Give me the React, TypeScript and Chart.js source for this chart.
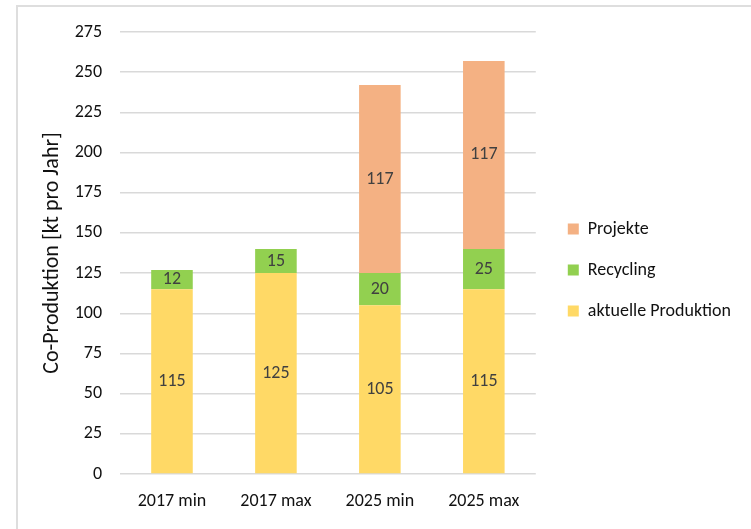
import React, { useEffect, useRef } from "react";
import { Chart, registerables } from "chart.js";

Chart.register(...registerables);

const categories = ["2017 min", "2017 max", "2025 min", "2025 max"];
const aktuelleProduktion = [115, 125, 105, 115];
const recycling = [12, 15, 20, 25];
const projekte = [null, null, 117, 117];
const yMin = 0;
const yMax = 275;
const yStep = 25;

const FONT = "Carlito, Lato, sans-serif";

const valueLabels = {
  id: "valueLabels",
  afterDatasetsDraw(chart: any) {
    const ctx = chart.ctx;
    ctx.save();
    ctx.font = `18px ${FONT}`;
    ctx.fillStyle = "#404040";
    ctx.textAlign = "center";
    ctx.textBaseline = "middle";
    chart.data.datasets.forEach((ds: any, i: number) => {
      const meta = chart.getDatasetMeta(i);
      meta.data.forEach((el: any, j: number) => {
        const v = ds.data[j];
        if (v == null) return;
        const p = el.getCenterPoint();
        ctx.fillText(String(v), p.x, p.y);
      });
    });
    ctx.restore();
  },
};

export default function App() {
  const ref = useRef<HTMLCanvasElement | null>(null);
  useEffect(() => {
    if (!ref.current) return;
    const chart = new Chart(ref.current, {
      type: "bar",
      data: {
        labels: categories,
        datasets: [
          { label: "aktuelle Produktion", data: aktuelleProduktion, backgroundColor: "#FFD966", barPercentage: 0.4, categoryPercentage: 1 },
          { label: "Recycling", data: recycling, backgroundColor: "#92D050", barPercentage: 0.4, categoryPercentage: 1 },
          { label: "Projekte", data: projekte as any, backgroundColor: "#F4B183", barPercentage: 0.4, categoryPercentage: 1 },
        ],
      },
      options: {
        responsive: false,
        animation: false,
        devicePixelRatio: 1,
        layout: { padding: { left: 39, top: 32, bottom: 21, right: 10 } },
        plugins: {
          tooltip: { enabled: false },
          legend: {
            position: "right",
            reverse: true,
            maxWidth: 260,
            labels: {
              boxWidth: 11,
              boxHeight: 11,
              padding: 23,
              color: "#111",
              font: { size: 18, family: FONT },
            },
          },
        },
        scales: {
          x: {
            stacked: true,
            grid: { display: false, drawTicks: false },
            border: { display: false },
            ticks: { color: "#111", font: { size: 18, family: FONT }, padding: 17 },
            afterFit(s: any) { s.height = 34; },
          },
          y: {
            stacked: true,
            min: yMin,
            max: yMax,
            ticks: { stepSize: yStep, color: "#111", font: { size: 18, family: FONT }, padding: 18 },
            grid: { color: "#d9d9d9", lineWidth: 1.5, drawTicks: false },
            border: { display: false },
            title: {
              display: true,
              text: "Co-Produktion [kt pro Jahr]",
              color: "#111",
              font: { size: 22, family: FONT },
              padding: { top: 0, bottom: 0 },
            },
            afterFit(s: any) { s.width = 81; },
          },
          y2: {
            type: "linear",
            position: "right",
            display: true,
            grid: { display: false, drawTicks: false },
            border: { display: false },
            ticks: { display: false },
            afterFit(s: any) { s.width = 9; },
          },
        },
      } as any,
      plugins: [valueLabels],
    });
    return () => chart.destroy();
  }, []);

  return (
    <div style={{ position: "fixed", left: 0, top: 0, width: 751, height: 529, overflow: "hidden", background: "#fff" }}>
      <div style={{ position: "absolute", left: 16, top: 5, width: 800, height: 600, border: "2px solid #dedede", boxSizing: "border-box" }} />
      <canvas ref={ref} width={751} height={529} style={{ position: "absolute", left: 0, top: 0, width: 751, height: 529 }} />
    </div>
  );
}
